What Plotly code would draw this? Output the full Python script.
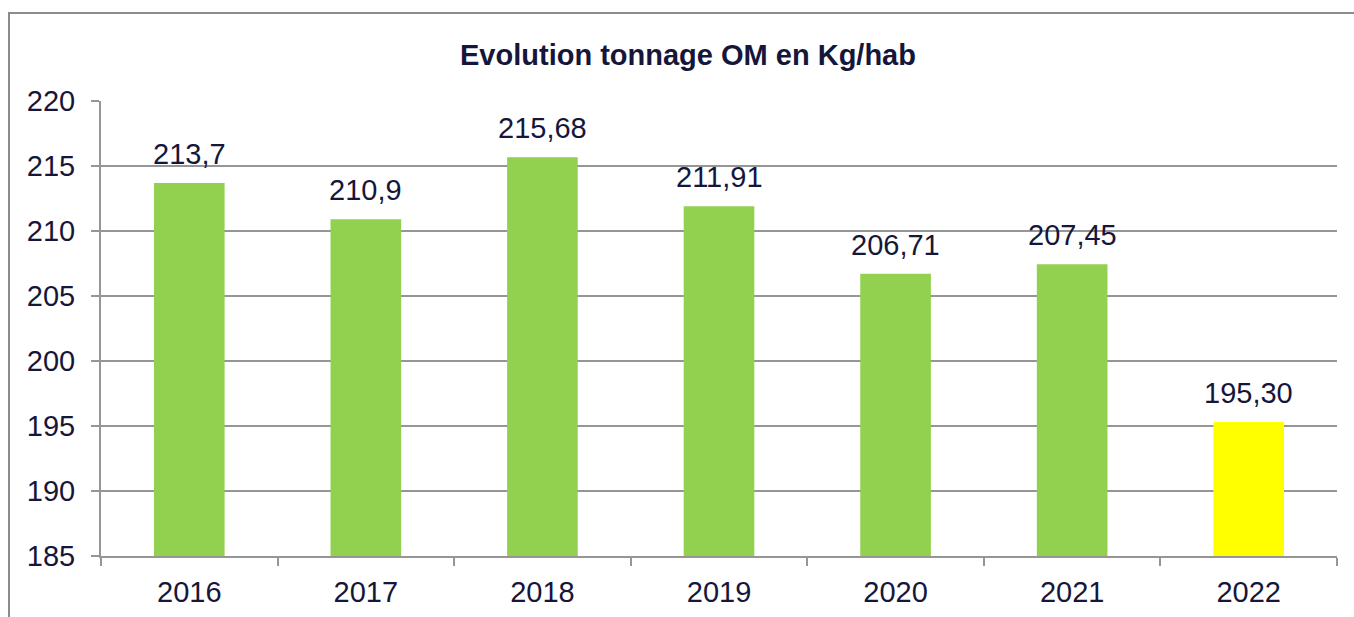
import plotly.graph_objects as go

years = ["2016", "2017", "2018", "2019", "2020", "2021", "2022"]
values = [213.7, 210.9, 215.68, 211.91, 206.71, 207.45, 195.30]
labels = ["213,7", "210,9", "215,68", "211,91", "206,71", "207,45", "195,30"]
colors = ["#92D050"] * 6 + ["#FFFF00"]

TXT = "#16163A"
GRID = "#969696"
FONT = "Liberation Sans, Arial, sans-serif"
FS = 29

fig = go.Figure()
fig.add_trace(go.Bar(x=years, y=values, marker=dict(color=colors, line=dict(width=0)),
                     hoverinfo="x+y"))

# category index positions on the category axis
for i, (y, t) in enumerate(zip(values, labels)):
    fig.add_annotation(x=i, y=y, text=t, showarrow=False, yanchor="bottom",
                       yshift=11, font=dict(family=FONT, size=FS, color=TXT))

W, H = 1354, 617
L, R, T, B = 101, 17, 101, 61
pw, ph = W - L - R, H - T - B

def px(xp):
    return (xp - L) / pw

def py(yp):
    return (H - B - yp) / ph

fig.add_shape(type="rect", xref="paper", yref="paper",
              x0=px(9), x1=px(1362), y0=py(625), y1=py(13),
              line=dict(color="#8C8C8C", width=2), layer="below")

fig.update_layout(
    width=W, height=H,
    margin=dict(l=L, r=R, t=T, b=B, autoexpand=False),
    paper_bgcolor="white", plot_bgcolor="white",
    bargap=0.6,
    showlegend=False,
    title=dict(text="<b>Evolution tonnage OM en Kg/hab</b>", x=(458 + 918) / 2 / W,
               xanchor="center", y=1 - 55 / H, yanchor="middle",
               font=dict(family=FONT, size=FS, color=TXT)),
    font=dict(family=FONT, size=FS, color=TXT),
)
fig.update_yaxes(range=[185, 220], dtick=5, showgrid=True, gridcolor=GRID, gridwidth=2,
                 showline=True, linecolor=GRID, linewidth=2, ticks="outside",
                 ticklen=8, tickwidth=2, tickcolor=GRID, ticklabelstandoff=10,
                 tickfont=dict(family=FONT, size=FS, color=TXT), zeroline=False,
                 automargin=False)
fig.update_xaxes(type="category", categoryorder="array", categoryarray=years,
                 range=[-0.5, len(years) - 0.5],
                 showline=True, linecolor=GRID, linewidth=2,
                 ticks="outside", tickson="boundaries", ticklen=8, tickwidth=2,
                 tickcolor=GRID, ticklabelstandoff=9, tickangle=0, automargin=False,
                 tickfont=dict(family=FONT, size=FS, color=TXT))

fig.write_html("out.html", config={"displayModeBar": False},
               post_script="document.body.style.margin='0';")
